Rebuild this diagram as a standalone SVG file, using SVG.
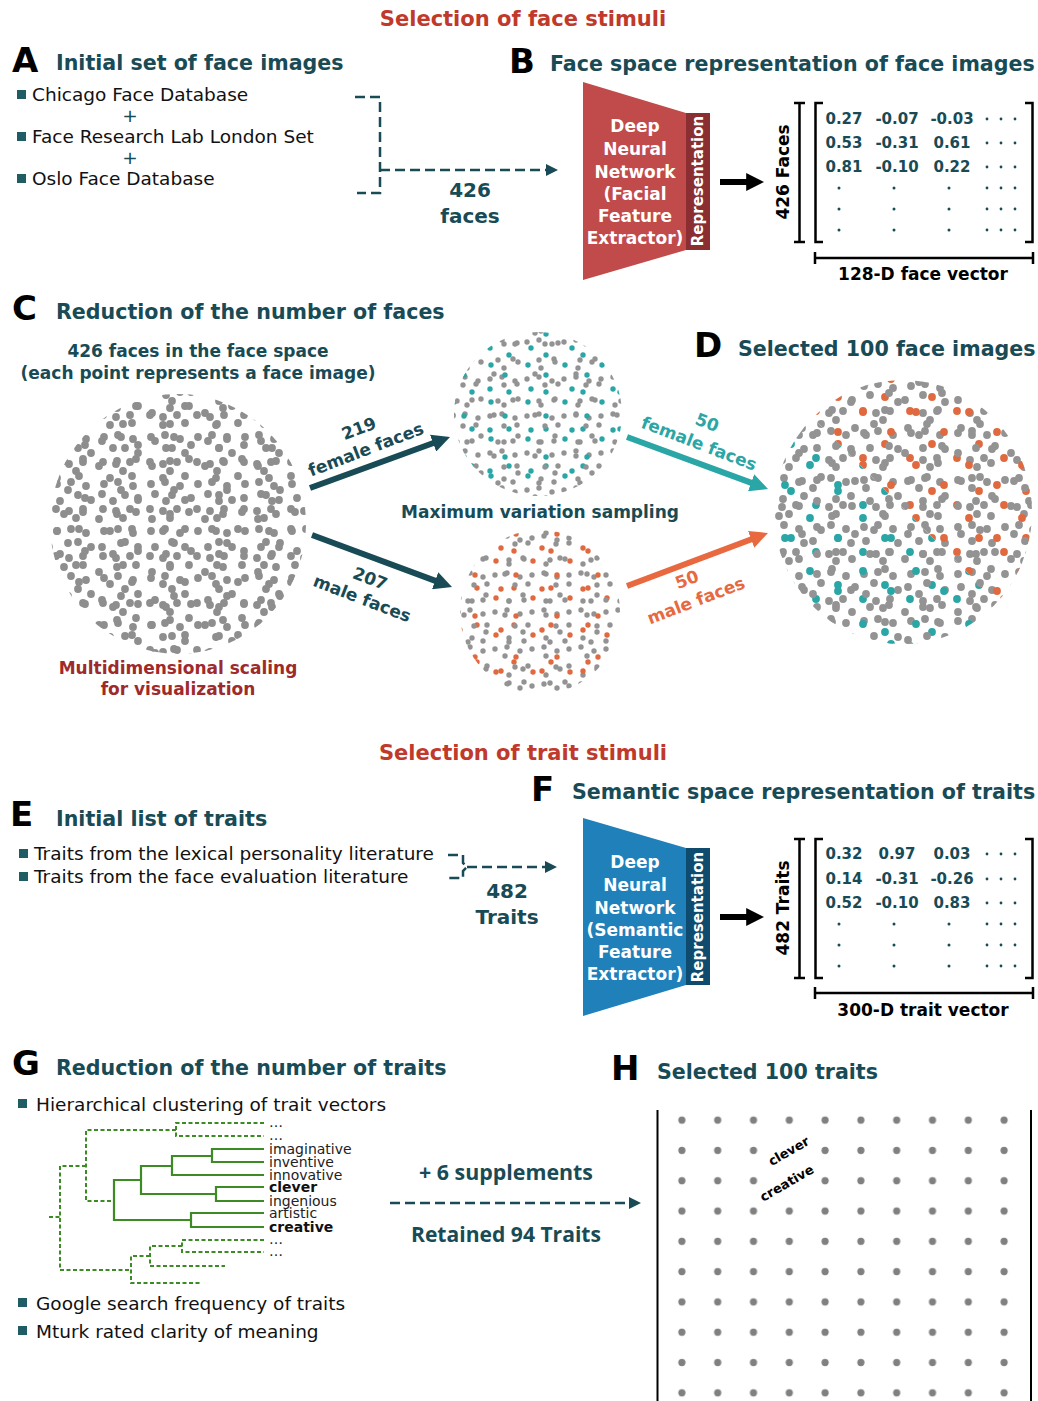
<svg xmlns="http://www.w3.org/2000/svg" width="1038" height="1401" viewBox="0 0 1038 1401">
<style>
text { font-family: "DejaVu Sans", "Liberation Sans", sans-serif; }
.sec { font-size: 21px; font-weight: bold; fill: #c0392b; }
.lbl { font-size: 34px; font-weight: bold; fill: #000; }
.hd { font-size: 20.6px; font-weight: bold; fill: #184b55; }
.body { font-size: 18.5px; fill: #111; }
.sub { font-size: 17px; font-weight: bold; fill: #184b55; }
.cnt { font-size: 20px; font-weight: bold; fill: #184b55; }
.wt { font-size: 17px; font-weight: bold; fill: #fff; }
.rep { font-size: 15px; font-weight: bold; fill: #fff; }
.num { font-size: 15px; font-weight: bold; fill: #184b55; }
.blk { font-size: 17px; font-weight: bold; fill: #000; }
.leaf { font-size: 14px; fill: #222; }
.leafb { font-size: 14px; font-weight: bold; fill: #111; }
.big { font-family: "Open Sans", "Noto Sans", sans-serif; font-size: 22px; font-weight: bold; fill: #184b55; }
.bul { fill: #1f5c63; }
.dash { fill: none; stroke: #184b55; stroke-width: 2.5; stroke-dasharray: 10 5; }
.brk { fill: none; stroke: #000; stroke-width: 2.5; }
.dd { fill: #184b55; }
.solid { fill: none; stroke: #3d8b25; stroke-width: 2.2; }
.dgreen { fill: none; stroke: #3d8b25; stroke-width: 2; stroke-dasharray: 4 2.5; }
</style>
<defs>
  <marker id="mDark" viewBox="0 0 10 10" refX="1" refY="5" markerWidth="3" markerHeight="3" orient="auto" markerUnits="strokeWidth"><path d="M0,0 L10,5 L0,10 z" fill="#184b55"/></marker>
  <marker id="mTeal" viewBox="0 0 10 10" refX="1" refY="5" markerWidth="3" markerHeight="3" orient="auto" markerUnits="strokeWidth"><path d="M0,0 L10,5 L0,10 z" fill="#2ba6a6"/></marker>
  <marker id="mOrange" viewBox="0 0 10 10" refX="1" refY="5" markerWidth="3" markerHeight="3" orient="auto" markerUnits="strokeWidth"><path d="M0,0 L10,5 L0,10 z" fill="#e8693f"/></marker>
  <marker id="mBlack" viewBox="0 0 10 10" refX="1" refY="5" markerWidth="3" markerHeight="3" orient="auto" markerUnits="strokeWidth"><path d="M0,0 L10,5 L0,10 z" fill="#000"/></marker>
  <marker id="mDash" viewBox="0 0 10 10" refX="2" refY="5" markerWidth="5" markerHeight="5" orient="auto" markerUnits="strokeWidth"><path d="M0,0 L10,5 L0,10 z" fill="#184b55"/></marker>

  <g id="t47g"><circle cx="7" cy="8" r="3.9"/><circle cx="21" cy="6" r="3.9"/><circle cx="36" cy="10" r="3.9"/><circle cx="41" cy="24" r="3.9"/><circle cx="19" cy="35" r="3.9"/><circle cx="33" cy="33" r="3.9"/><circle cx="26" cy="42" r="3.9"/></g>
  <g id="t47c"><circle cx="28" cy="19" r="3.9"/><circle cx="6" cy="33" r="3.9"/></g>
  <g id="t53g"><circle cx="10" cy="5" r="3.9"/><circle cx="26" cy="12" r="3.9"/><circle cx="44" cy="7" r="3.9"/><circle cx="6" cy="22" r="3.9"/><circle cx="48" cy="36" r="3.9"/><circle cx="29" cy="40" r="3.9"/><circle cx="40" cy="47" r="3.9"/></g>
  <g id="t53c"><circle cx="37" cy="24" r="3.9"/><circle cx="12" cy="44" r="3.9"/></g>
  <g id="t37g"><circle cx="5" cy="6" r="2.7"/><circle cx="17" cy="4" r="2.7"/><circle cx="30" cy="8" r="2.7"/><circle cx="33" cy="26" r="2.7"/><circle cx="19" cy="32" r="2.7"/></g>
  <g id="t37c"><circle cx="24" cy="19" r="2.7"/><circle cx="6" cy="29" r="2.7"/></g>
  <g id="t41g"><circle cx="8" cy="4" r="2.7"/><circle cx="36" cy="5" r="2.7"/><circle cx="4" cy="20" r="2.7"/><circle cx="30" cy="21" r="2.7"/><circle cx="26" cy="35" r="2.7"/></g>
  <g id="t41c"><circle cx="22" cy="9" r="2.7"/><circle cx="37" cy="36" r="2.7"/></g>

  <pattern id="pC1" patternUnits="userSpaceOnUse" width="47" height="47" x="3" y="6"><use href="#t47g" fill="#8e8e8e"/><use href="#t47c" fill="#8e8e8e"/></pattern>
  <pattern id="pC2" patternUnits="userSpaceOnUse" width="53" height="53" x="20" y="30"><use href="#t53g" fill="#8e8e8e"/><use href="#t53c" fill="#8e8e8e"/></pattern>
  <pattern id="pDT1" patternUnits="userSpaceOnUse" width="47" height="47" x="11" y="2"><use href="#t47g" fill="#939393"/><use href="#t47c" fill="#2ba6a6"/></pattern>
  <pattern id="pDO1" patternUnits="userSpaceOnUse" width="47" height="47" x="11" y="2"><use href="#t47g" fill="#939393"/><use href="#t47c" fill="#e0693f"/></pattern>
  <pattern id="pDT2" patternUnits="userSpaceOnUse" width="53" height="53" x="31" y="17"><use href="#t53g" fill="#939393"/><use href="#t53c" fill="#2ba6a6"/></pattern>
  <pattern id="pDO2" patternUnits="userSpaceOnUse" width="53" height="53" x="31" y="17"><use href="#t53g" fill="#939393"/><use href="#t53c" fill="#e0693f"/></pattern>
  <pattern id="pMT1" patternUnits="userSpaceOnUse" width="37" height="37" x="4" y="3"><use href="#t37g" fill="#939393"/><use href="#t37c" fill="#2ba6a6"/></pattern>
  <pattern id="pMT2" patternUnits="userSpaceOnUse" width="41" height="41" x="17" y="11"><use href="#t41g" fill="#939393"/><use href="#t41c" fill="#2ba6a6"/></pattern>
  <pattern id="pMO1" patternUnits="userSpaceOnUse" width="37" height="37" x="9" y="14"><use href="#t37g" fill="#939393"/><use href="#t37c" fill="#e0693f"/></pattern>
  <pattern id="pMO2" patternUnits="userSpaceOnUse" width="41" height="41" x="28" y="6"><use href="#t41g" fill="#939393"/><use href="#t41c" fill="#e0693f"/></pattern>
  <pattern id="pGrid" patternUnits="userSpaceOnUse" width="35.8" height="30.3" x="664" y="1105"><circle cx="17.9" cy="15.15" r="3.6" fill="#808080"/></pattern>

  <clipPath id="clipC"><ellipse cx="178" cy="524" rx="128" ry="130"/></clipPath>
  <clipPath id="clipMT"><ellipse cx="538" cy="414" rx="84" ry="82"/></clipPath>
  <clipPath id="clipMB"><ellipse cx="540" cy="612" rx="80" ry="82"/></clipPath>
  <clipPath id="clipD"><ellipse cx="903" cy="512" rx="129" ry="132"/></clipPath>
  <clipPath id="halfT"><polygon points="760,365 1040,645 1040,660 760,660"/></clipPath>
  <clipPath id="halfO"><polygon points="760,365 760,360 1040,360 1040,645"/></clipPath>
</defs>

<rect x="0" y="0" width="1038" height="1401" fill="#fff"/>

<!-- Section titles -->
<text class="sec" x="523" y="26" text-anchor="middle">Selection of face stimuli</text>
<text class="sec" x="523" y="760" text-anchor="middle">Selection of trait stimuli</text>

<!-- A -->
<g id="panelA">
  <text class="lbl" x="12" y="72">A</text>
  <text class="hd" x="56" y="70">Initial set of face images</text>
  <rect class="bul" x="17" y="90" width="9" height="9"/>
  <text class="body" x="32" y="101">Chicago Face Database</text>
  <text class="body" x="130" y="122" text-anchor="middle" style="fill:#184b55">+</text>
  <rect class="bul" x="17" y="132" width="9" height="9"/>
  <text class="body" x="32" y="143">Face Research Lab London Set</text>
  <text class="body" x="130" y="164" text-anchor="middle" style="fill:#184b55">+</text>
  <rect class="bul" x="17" y="174" width="9" height="9"/>
  <text class="body" x="32" y="185">Oslo Face Database</text>
  <text class="cnt" x="470" y="197" text-anchor="middle">426</text>
  <text class="cnt" x="470" y="223" text-anchor="middle">faces</text>
</g>

<!-- B -->
<g id="panelB">
  <text class="lbl" x="509" y="73">B</text>
  <text class="hd" x="550" y="71">Face space representation of face images</text>
  <polygon points="583,82 686,113 686,250 583,280" fill="#c14a4a"/>
  <rect x="686" y="113" width="24" height="137" fill="#8a2e31"/>
  <text class="wt" x="635" y="132" text-anchor="middle">Deep</text>
  <text class="wt" x="635" y="155" text-anchor="middle">Neural</text>
  <text class="wt" x="635" y="178" text-anchor="middle">Network</text>
  <text class="wt" x="635" y="200" text-anchor="middle">(Facial</text>
  <text class="wt" x="635" y="222" text-anchor="middle">Feature</text>
  <text class="wt" x="635" y="244" text-anchor="middle">Extractor)</text>
  <text class="rep" transform="translate(703,181) rotate(-90)" text-anchor="middle">Representation</text>
  <text class="blk" transform="translate(789,172) rotate(-90)" text-anchor="middle">426 Faces</text>
  <path class="brk" d="M794,103 H805 M799.5,103 V242 M794,242 H805"/>
  <path class="brk" d="M823,103 H815.5 V242 H823 M1025,103 H1032.5 V242 H1025"/>
  <text class="num" x="844" y="124" text-anchor="middle">0.27</text>
  <text class="num" x="897" y="124" text-anchor="middle">-0.07</text>
  <text class="num" x="952" y="124" text-anchor="middle">-0.03</text>
  <text class="num" x="844" y="148" text-anchor="middle">0.53</text>
  <text class="num" x="897" y="148" text-anchor="middle">-0.31</text>
  <text class="num" x="952" y="148" text-anchor="middle">0.61</text>
  <text class="num" x="844" y="172" text-anchor="middle">0.81</text>
  <text class="num" x="897" y="172" text-anchor="middle">-0.10</text>
  <text class="num" x="952" y="172" text-anchor="middle">0.22</text>
  <g class="dd">
    <circle cx="987" cy="119" r="1.4"/><circle cx="1001" cy="119" r="1.4"/><circle cx="1015" cy="119" r="1.4"/>
    <circle cx="987" cy="143" r="1.4"/><circle cx="1001" cy="143" r="1.4"/><circle cx="1015" cy="143" r="1.4"/>
    <circle cx="987" cy="167" r="1.4"/><circle cx="1001" cy="167" r="1.4"/><circle cx="1015" cy="167" r="1.4"/>
    <circle cx="839" cy="188" r="1.5"/><circle cx="894" cy="188" r="1.5"/><circle cx="949" cy="188" r="1.5"/><circle cx="987" cy="188" r="1.4"/><circle cx="1001" cy="188" r="1.4"/><circle cx="1015" cy="188" r="1.4"/>
    <circle cx="839" cy="209" r="1.5"/><circle cx="894" cy="209" r="1.5"/><circle cx="949" cy="209" r="1.5"/><circle cx="987" cy="209" r="1.4"/><circle cx="1001" cy="209" r="1.4"/><circle cx="1015" cy="209" r="1.4"/>
    <circle cx="839" cy="230" r="1.5"/><circle cx="894" cy="230" r="1.5"/><circle cx="949" cy="230" r="1.5"/><circle cx="987" cy="230" r="1.4"/><circle cx="1001" cy="230" r="1.4"/><circle cx="1015" cy="230" r="1.4"/>
  </g>
  <path class="brk" d="M815,252 V264 M815,258 H1033 M1033,252 V264"/>
  <text class="blk" x="923" y="280" text-anchor="middle">128-D face vector</text>
</g>

<!-- C -->
<g id="panelC">
  <text class="lbl" x="12" y="320">C</text>
  <text class="hd" x="56" y="319">Reduction of the number of faces</text>
  <text class="sub" x="198" y="357" text-anchor="middle">426 faces in the face space</text>
  <text class="sub" x="198" y="379" text-anchor="middle">(each point represents a face image)</text>
  <g id="cloudC" clip-path="url(#clipC)">
    <rect x="45" y="390" width="270" height="270" fill="url(#pC1)"/>
    <rect x="45" y="390" width="270" height="270" fill="url(#pC2)"/>
  </g>
  <text class="sub" x="178" y="674" text-anchor="middle" style="fill:#9e2a2b">Multidimensional scaling</text>
  <text class="sub" x="178" y="695" text-anchor="middle" style="fill:#9e2a2b">for visualization</text>
  <g id="cloudFemale" clip-path="url(#clipMT)">
    <rect x="450" y="328" width="180" height="175" fill="url(#pMT1)"/>
    <rect x="450" y="328" width="180" height="175" fill="url(#pMT2)"/>
  </g>
  <g id="cloudMale" clip-path="url(#clipMB)">
    <rect x="455" y="525" width="175" height="175" fill="url(#pMO1)"/>
    <rect x="455" y="525" width="175" height="175" fill="url(#pMO2)"/>
  </g>
  <text class="sub" x="540" y="518" text-anchor="middle">Maximum variation sampling</text>
  <text class="sub" transform="translate(361,434) rotate(-21)" text-anchor="middle">219</text>
  <text class="sub" transform="translate(368,455) rotate(-21)" text-anchor="middle">female faces</text>
  <text class="sub" transform="translate(368,584) rotate(21)" text-anchor="middle">207</text>
  <text class="sub" transform="translate(360,604) rotate(21)" text-anchor="middle">male faces</text>
  <text class="sub" transform="translate(705,428) rotate(21)" text-anchor="middle" style="fill:#2ba6a6">50</text>
  <text class="sub" transform="translate(697,449) rotate(21)" text-anchor="middle" style="fill:#2ba6a6">female faces</text>
  <text class="sub" transform="translate(689,585) rotate(-21)" text-anchor="middle" style="fill:#e8693f">50</text>
  <text class="sub" transform="translate(698,606) rotate(-21)" text-anchor="middle" style="fill:#e8693f">male faces</text>
</g>

<!-- D -->
<g id="panelD">
  <text class="lbl" x="694" y="357">D</text>
  <text class="hd" x="738" y="356">Selected 100 face images</text>
  <g id="cloudD" clip-path="url(#clipD)">
    <g clip-path="url(#halfT)">
      <rect x="770" y="375" width="270" height="275" fill="url(#pDT1)"/>
      <rect x="770" y="375" width="270" height="275" fill="url(#pDT2)"/>
    </g>
    <g clip-path="url(#halfO)">
      <rect x="770" y="375" width="270" height="275" fill="url(#pDO1)"/>
      <rect x="770" y="375" width="270" height="275" fill="url(#pDO2)"/>
    </g>
  </g>
</g>

<!-- E -->
<g id="panelE">
  <text class="lbl" x="10" y="826">E</text>
  <text class="hd" x="56" y="826">Initial list of traits</text>
  <rect class="bul" x="19" y="849" width="9" height="9"/>
  <text class="body" x="34" y="860">Traits from the lexical personality literature</text>
  <rect class="bul" x="19" y="872" width="9" height="9"/>
  <text class="body" x="34" y="883">Traits from the face evaluation literature</text>
  <text class="cnt" x="507" y="898" text-anchor="middle">482</text>
  <text class="cnt" x="507" y="924" text-anchor="middle">Traits</text>
</g>

<!-- F -->
<g id="panelF">
  <text class="lbl" x="531" y="801">F</text>
  <text class="hd" x="572" y="799">Semantic space representation of traits</text>
  <polygon points="583,818 686,848 686,985 583,1016" fill="#1f80ba"/>
  <rect x="686" y="848" width="24" height="137" fill="#0f4b6e"/>
  <text class="wt" x="635" y="868" text-anchor="middle">Deep</text>
  <text class="wt" x="635" y="891" text-anchor="middle">Neural</text>
  <text class="wt" x="635" y="914" text-anchor="middle">Network</text>
  <text class="wt" x="635" y="936" text-anchor="middle">(Semantic</text>
  <text class="wt" x="635" y="958" text-anchor="middle">Feature</text>
  <text class="wt" x="635" y="980" text-anchor="middle">Extractor)</text>
  <text class="rep" transform="translate(703,917) rotate(-90)" text-anchor="middle">Representation</text>
  <text class="blk" transform="translate(789,908) rotate(-90)" text-anchor="middle">482 Traits</text>
  <path class="brk" d="M794,839 H805 M799.5,839 V978 M794,978 H805"/>
  <path class="brk" d="M823,839 H815.5 V978 H823 M1025,839 H1032.5 V978 H1025"/>
  <text class="num" x="844" y="859" text-anchor="middle">0.32</text>
  <text class="num" x="897" y="859" text-anchor="middle">0.97</text>
  <text class="num" x="952" y="859" text-anchor="middle">0.03</text>
  <text class="num" x="844" y="884" text-anchor="middle">0.14</text>
  <text class="num" x="897" y="884" text-anchor="middle">-0.31</text>
  <text class="num" x="952" y="884" text-anchor="middle">-0.26</text>
  <text class="num" x="844" y="908" text-anchor="middle">0.52</text>
  <text class="num" x="897" y="908" text-anchor="middle">-0.10</text>
  <text class="num" x="952" y="908" text-anchor="middle">0.83</text>
  <g class="dd">
    <circle cx="987" cy="854" r="1.4"/><circle cx="1001" cy="854" r="1.4"/><circle cx="1015" cy="854" r="1.4"/>
    <circle cx="987" cy="879" r="1.4"/><circle cx="1001" cy="879" r="1.4"/><circle cx="1015" cy="879" r="1.4"/>
    <circle cx="987" cy="903" r="1.4"/><circle cx="1001" cy="903" r="1.4"/><circle cx="1015" cy="903" r="1.4"/>
    <circle cx="839" cy="924" r="1.5"/><circle cx="894" cy="924" r="1.5"/><circle cx="949" cy="924" r="1.5"/><circle cx="987" cy="924" r="1.4"/><circle cx="1001" cy="924" r="1.4"/><circle cx="1015" cy="924" r="1.4"/>
    <circle cx="839" cy="945" r="1.5"/><circle cx="894" cy="945" r="1.5"/><circle cx="949" cy="945" r="1.5"/><circle cx="987" cy="945" r="1.4"/><circle cx="1001" cy="945" r="1.4"/><circle cx="1015" cy="945" r="1.4"/>
    <circle cx="839" cy="966" r="1.5"/><circle cx="894" cy="966" r="1.5"/><circle cx="949" cy="966" r="1.5"/><circle cx="987" cy="966" r="1.4"/><circle cx="1001" cy="966" r="1.4"/><circle cx="1015" cy="966" r="1.4"/>
  </g>
  <path class="brk" d="M815,987 V999 M815,993 H1033 M1033,987 V999"/>
  <text class="blk" x="923" y="1016" text-anchor="middle">300-D trait vector</text>
</g>

<!-- G -->
<g id="panelG">
  <text class="lbl" x="12" y="1075">G</text>
  <text class="hd" x="56" y="1075">Reduction of the number of traits</text>
  <rect class="bul" x="18" y="1099" width="9" height="9"/>
  <text class="body" x="36" y="1111">Hierarchical clustering of trait vectors</text>
  <rect class="bul" x="18" y="1298" width="9" height="9"/>
  <text class="body" x="36" y="1310">Google search frequency of traits</text>
  <rect class="bul" x="18" y="1326" width="9" height="9"/>
  <text class="body" x="36" y="1338">Mturk rated clarity of meaning</text>
  <g id="dendrogram">
    <path class="solid" d="M264,1149 H212 V1162 H264 M212,1156 H172 V1175 H264 M264,1187 H216 V1201 H264 M172,1166 H141 V1194 H216 M264,1213 H191 V1227 H264 M141,1180 H114 V1220 H191"/>
    <path class="dgreen" d="M264,1123 H176 V1136 H264 M176,1130 H86 V1201 H114 M264,1240 H182 V1252 H264 M182,1246 H150 V1266 H225 M150,1256 H131 V1283 H201 M86,1166 H60 V1270 H131 M49,1217 H60"/>
    <text class="leaf" x="269" y="1127">…</text>
    <text class="leaf" x="269" y="1140">…</text>
    <text class="leaf" x="269" y="1154">imaginative</text>
    <text class="leaf" x="269" y="1167">inventive</text>
    <text class="leaf" x="269" y="1180">innovative</text>
    <text class="leafb" x="269" y="1192">clever</text>
    <text class="leaf" x="269" y="1206">ingenious</text>
    <text class="leaf" x="269" y="1218">artistic</text>
    <text class="leafb" x="269" y="1232">creative</text>
    <text class="leaf" x="269" y="1244">…</text>
    <text class="leaf" x="269" y="1256">…</text>
  </g>
  <text class="big" x="506" y="1180" text-anchor="middle" textLength="174" lengthAdjust="spacingAndGlyphs">+ 6 supplements</text>
  <text class="big" x="506" y="1242" text-anchor="middle" textLength="190" lengthAdjust="spacingAndGlyphs">Retained 94 Traits</text>
</g>

<!-- H -->
<g id="panelH">
  <text class="lbl" x="611" y="1080">H</text>
  <text class="hd" x="657" y="1079">Selected 100 traits</text>
  <path d="M657.5,1110 V1401 M1031,1110 V1401" stroke="#000" stroke-width="2" fill="none"/>
  <rect x="664" y="1105" width="358" height="296" fill="url(#pGrid)"/>
  <circle cx="789.3" cy="1150.45" r="5.5" fill="#fff"/>
  <circle cx="789.3" cy="1180.75" r="5.5" fill="#fff"/>
  <text transform="translate(791,1155) rotate(-30)" text-anchor="middle" style="font-size:13px;font-weight:bold;fill:#000">clever</text>
  <text transform="translate(789,1187) rotate(-30)" text-anchor="middle" style="font-size:13px;font-weight:bold;fill:#000">creative</text>
</g>

<!-- connectors -->
<g id="connectors">
  <path class="dash" d="M355,97 H380 V193 H357"/>
  <path class="dash" d="M380,170 H548" marker-end="url(#mDash)"/>
  <path class="dash" d="M448,855 H463 V863 L467,867 L463,871 V878 H448"/>
  <path class="dash" d="M467,867 H547" marker-end="url(#mDash)"/>
  <path class="dash" d="M390,1203 H631" marker-end="url(#mDash)"/>
  <line x1="720" y1="182" x2="748" y2="182" stroke="#000" stroke-width="6" marker-end="url(#mBlack)"/>
  <line x1="720" y1="917" x2="748" y2="917" stroke="#000" stroke-width="6" marker-end="url(#mBlack)"/>
  <line x1="310" y1="488" x2="434.8" y2="442.5" stroke="#184b55" stroke-width="6" marker-end="url(#mDark)"/>
  <line x1="312" y1="535" x2="436.8" y2="581.4" stroke="#184b55" stroke-width="6" marker-end="url(#mDark)"/>
  <line x1="627" y1="437" x2="752.8" y2="483.4" stroke="#2ba6a6" stroke-width="6" marker-end="url(#mTeal)"/>
  <line x1="627" y1="586" x2="752.8" y2="538.7" stroke="#e8693f" stroke-width="6" marker-end="url(#mOrange)"/>
</g>
</svg>
